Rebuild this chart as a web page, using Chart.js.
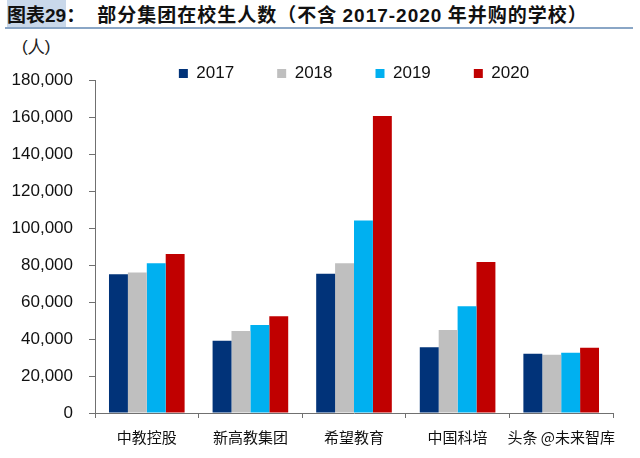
<!DOCTYPE html>
<html lang="zh">
<head>
<meta charset="UTF-8">
<title>部分集团在校生人数</title>
<script src="https://cdn.jsdelivr.net/npm/chart.js"></script>
<style>
  body { margin: 0; background: #fff; width: 640px; height: 458px; overflow: hidden; position: relative; }
  .title {
    position: absolute; left: 7px; top: 2px; white-space: nowrap;
    font-family: "Noto Sans CJK SC", sans-serif; font-weight: bold; font-size: 19px; color: #111;
    line-height: 24px;
  }
  .title .tag { background: #c9d8ea; }
  .title .num { font-family: "Liberation Sans", Arial, sans-serif; }
  .title .main { margin-left: 12px; letter-spacing: 1px; }
  .rule { position: absolute; left: 5px; top: 27px; width: 628px; height: 0; border-top: 2px solid #8aa6c6; }
  .unit { position: absolute; left: 22px; top: 35px; font-family: "Liberation Sans", Arial, sans-serif; font-size: 17px; color: #222; }
  #chart { position: absolute; left: 0; top: 0; }
</style>
</head>
<body>
<div class="title"><span class="tag">图表<span class="num">29</span></span>：<span class="main">部分集团在校生人数（不含 <span class="num">2017-2020</span> 年并购的学校）</span></div>
<div class="rule"></div>
<div class="unit">(人)</div>
<canvas id="chart" width="640" height="458"></canvas>
<script>
  // 数据
  const groups = ['中教控股', '新高教集团', '希望教育', '中国科培', '头条 @未来智库'];
  const years = ['2017', '2018', '2019', '2020'];
  const students2017 = [75000, 39000, 75300, 35500, 32000];
  const students2018 = [76000, 44300, 81000, 44900, 31500];
  const students2019 = [81000, 47600, 104000, 57700, 32600];
  const students2020 = [86000, 52300, 160500, 81600, 35300];
  const yTicks = [0, 20000, 40000, 60000, 80000, 100000, 120000, 140000, 160000, 180000];

  const colors = ['#013379', '#bfbfbf', '#00b0f0', '#c00000'];
  const series = [students2017, students2018, students2019, students2020];

  new Chart(document.getElementById('chart'), {
    type: 'bar',
    data: {
      labels: groups,
      datasets: years.map((y, i) => ({
        label: y,
        data: series[i],
        backgroundColor: colors[i],
        borderWidth: 0,
        categoryPercentage: 0.73,
        barPercentage: 1.0
      }))
    },
    options: {
      responsive: false,
      animation: false,
      layout: { padding: { top: 22, left: 0, right: 27, bottom: 2 } },
      plugins: {
        tooltip: { enabled: false },
        legend: {
          position: 'top',
          fullSize: false,
          maxHeight: 58,
          labels: {
            boxWidth: 9,
            boxHeight: 9,
            padding: 43,
            color: '#111',
            font: { family: '"Liberation Sans", Arial, sans-serif', size: 17, lineHeight: 1 }
          }
        }
      },
      scales: {
        x: {
          grid: { offset: true, drawOnChartArea: false, tickLength: 5, color: '#707070' },
          border: { color: '#707070', width: 1 },
          ticks: {
            padding: 10,
            color: '#111',
            maxRotation: 0,
            minRotation: 0,
            autoSkip: false,
            font: { family: '"Noto Sans CJK SC", sans-serif', size: 15 }
          }
        },
        y: {
          min: 0,
          max: 180000,
          afterBuildTicks: axis => { axis.ticks = yTicks.map(v => ({ value: v })); },
          afterFit: axis => { axis.width = 95; },
          grid: { drawOnChartArea: false, tickLength: 6, color: '#707070' },
          border: { color: '#707070', width: 1 },
          ticks: {
            padding: 16,
            color: '#111',
            font: { family: '"Liberation Sans", Arial, sans-serif', size: 17 },
            callback: v => v.toLocaleString('en-US')
          }
        }
      }
    }
  });
</script>
</body>
</html>
